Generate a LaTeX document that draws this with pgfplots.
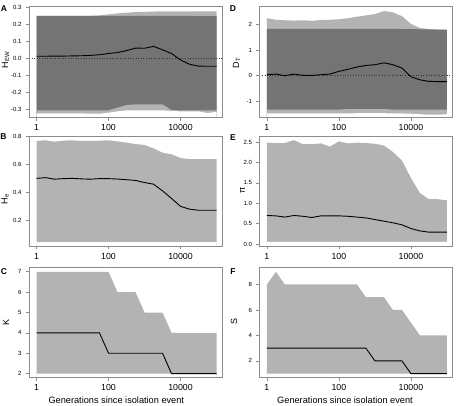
\documentclass[border=0pt]{standalone}
\usepackage{fontspec}
\setmainfont{Liberation Sans}
\usepackage{pgfplots}
\usepackage{pgfplotstable}
\pgfplotsset{compat=1.18}

\definecolor{bandlight}{RGB}{179,179,179}
\definecolor{banddark}{RGB}{116,116,116}
\definecolor{framegray}{RGB}{140,140,140}

% generations sampled at quarter decades
\pgfplotstableread{
gen    olo    ohi    ilo    ihi    mean
1      -0.324 0.250 -0.306 0.250  0.012
1.778  -0.324 0.250 -0.306 0.250  0.012
3.162  -0.324 0.250 -0.306 0.250  0.013
5.623  -0.324 0.250 -0.306 0.250  0.013
10     -0.324 0.250 -0.306 0.250  0.014
17.78  -0.324 0.250 -0.306 0.250  0.015
31.62  -0.326 0.250 -0.306 0.250  0.017
56.23  -0.326 0.252 -0.306 0.250  0.021
100    -0.320 0.258 -0.306 0.250  0.028
177.8  -0.312 0.264 -0.290 0.250  0.034
316.2  -0.306 0.268 -0.275 0.250  0.045
562.3  -0.306 0.272 -0.271 0.250  0.060
1000   -0.306 0.273 -0.271 0.250  0.059
1778   -0.306 0.275 -0.271 0.250  0.070
3162   -0.306 0.276 -0.271 0.250  0.050
5623   -0.310 0.276 -0.305 0.250  0.028
10000  -0.312 0.276 -0.306 0.249 -0.010
17783  -0.312 0.276 -0.306 0.249 -0.035
31623  -0.312 0.276 -0.306 0.248 -0.046
56234  -0.322 0.276 -0.306 0.248 -0.047
100000 -0.314 0.276 -0.306 0.248 -0.047
}\hewtable

\pgfplotstableread{
gen    olo   ohi   ilo   ihi   mean
1      -1.47 2.24 -1.32 1.83  0.040
1.778  -1.47 2.18 -1.32 1.83  0.065
3.162  -1.47 2.16 -1.32 1.83  0.000
5.623  -1.47 2.15 -1.32 1.83  0.065
10     -1.47 2.16 -1.32 1.83  0.013
17.78  -1.47 2.14 -1.32 1.83  0.010
31.62  -1.47 2.17 -1.32 1.83  0.040
56.23  -1.47 2.18 -1.32 1.83  0.065
100    -1.47 2.20 -1.32 1.83  0.170
177.8  -1.47 2.24 -1.30 1.83  0.250
316.2  -1.46 2.30 -1.30 1.83  0.340
562.3  -1.46 2.35 -1.30 1.83  0.400
1000   -1.46 2.40 -1.30 1.83  0.430
1778   -1.46 2.52 -1.30 1.83  0.500
3162   -1.47 2.47 -1.32 1.83  0.430
5623   -1.47 2.32 -1.32 1.82  0.300
10000  -1.48 2.02 -1.32 1.82 -0.040
17783  -1.50 1.86 -1.32 1.81 -0.160
31623  -1.52 1.82 -1.32 1.80 -0.220
56234  -1.52 1.80 -1.32 1.80 -0.230
100000 -1.50 1.79 -1.32 1.79 -0.230
}\dttable

\pgfplotstableread{
gen    lo    hi    mean
1      0.040 0.769 0.500
1.778  0.040 0.774 0.505
3.162  0.040 0.764 0.494
5.623  0.040 0.771 0.498
10     0.040 0.774 0.500
17.78  0.040 0.769 0.496
31.62  0.040 0.769 0.494
56.23  0.040 0.771 0.498
100    0.040 0.774 0.498
177.8  0.040 0.766 0.495
316.2  0.040 0.757 0.490
562.3  0.040 0.747 0.485
1000   0.040 0.740 0.470
1778   0.040 0.716 0.458
3162   0.040 0.685 0.410
5623   0.040 0.673 0.355
10000  0.040 0.646 0.298
17783  0.040 0.639 0.278
31623  0.040 0.639 0.270
56234  0.040 0.639 0.270
100000 0.040 0.639 0.270
}\hetable

\pgfplotstableread{
gen    lo   hi   mean
1      0.05 2.49 0.70
1.778  0.05 2.48 0.69
3.162  0.05 2.48 0.66
5.623  0.05 2.55 0.70
10     0.05 2.45 0.68
17.78  0.05 2.45 0.65
31.62  0.05 2.47 0.69
56.23  0.05 2.39 0.69
100    0.05 2.52 0.69
177.8  0.05 2.47 0.68
316.2  0.05 2.49 0.66
562.3  0.05 2.48 0.64
1000   0.05 2.46 0.60
1778   0.05 2.42 0.56
3162   0.05 2.26 0.52
5623   0.05 2.05 0.47
10000  0.05 1.62 0.38
17783  0.05 1.25 0.32
31623  0.05 1.10 0.29
56234  0.05 1.10 0.29
100000 0.05 1.07 0.29
}\pitable

\pgfplotstableread{
gen    lo hi mean
1      2  7  4
1.778  2  7  4
3.162  2  7  4
5.623  2  7  4
10     2  7  4
17.78  2  7  4
31.62  2  7  4
56.23  2  7  4
100    2  7  3
177.8  2  6  3
316.2  2  6  3
562.3  2  6  3
1000   2  5  3
1778   2  5  3
3162   2  5  3
5623   2  4  2
10000  2  4  2
17783  2  4  2
31623  2  4  2
56234  2  4  2
100000 2  4  2
}\ktable

\pgfplotstableread{
gen    lo hi mean
1      1  8  3
1.778  1  9  3
3.162  1  8  3
5.623  1  8  3
10     1  8  3
17.78  1  8  3
31.62  1  8  3
56.23  1  8  3
100    1  8  3
177.8  1  8  3
316.2  1  8  3
562.3  1  7  3
1000   1  7  2
1778   1  7  2
3162   1  6  2
5623   1  6  2
10000  1  5  1
17783  1  4  1
31623  1  4  1
56234  1  4  1
100000 1  4  1
}\stable

\pgfplotsset{
  gpanel/.style={
    scale only axis, axis on top, width=193pt,
    axis line style={draw=framegray, line width=0.7pt},
    every tick/.style={draw=framegray, line width=0.6pt},
    tick align=outside, major tick length=3.3pt, tick pos=left,
    xtick={1,100,10000}, xticklabels={1,100,10000}, minor xtick={},
    xticklabel style={font=\fontsize{8.8}{9}\selectfont, inner sep=1pt, yshift=-2.5pt},
    yticklabel style={font=\fontsize{6}{7}\selectfont, inner sep=1pt, xshift=-3.3pt},
    anchor=south west,
  },
  meanline/.style={black, line width=0.9pt},
}

\begin{document}
\begin{tikzpicture}
\useasboundingbox (0pt,0pt) rectangle (457pt,406pt);

% A: H_EW
\begin{axis}[gpanel, xmode=log, xmin=0.631, xmax=144544,
  height=110.6pt, at={(29.3pt,288.7pt)},
  ymin=-0.347, ymax=0.3035,
  ytick={-0.3,-0.2,-0.1,0,0.1,0.2,0.3},
  yticklabels={-0.3,-0.2,-0.1,0.0,0.1,0.2,0.3}]
  \addplot[fill=bandlight, draw=none] table[x=gen, y=ohi] {\hewtable}
    -- (axis cs:100000,-1) -- (axis cs:1,-1) -- cycle;
  \addplot[fill=banddark, draw=none] table[x=gen, y=ihi] {\hewtable}
    -- (axis cs:100000,-1) -- (axis cs:1,-1) -- cycle;
  \addplot[fill=bandlight, draw=none] table[x=gen, y=ilo] {\hewtable}
    -- (axis cs:100000,-1) -- (axis cs:1,-1) -- cycle;
  \addplot[fill=white, draw=none] table[x=gen, y=olo] {\hewtable}
    -- (axis cs:100000,-1) -- (axis cs:1,-1) -- cycle;
  \addplot[black!80, dotted, line width=0.6pt] coordinates {(0.1,0) (1000000,0)};
  \addplot[meanline] table[x=gen, y=mean] {\hewtable};
\end{axis}

% D: D_T
\begin{axis}[gpanel, xmode=log, xmin=0.631, xmax=144544,
  height=110.6pt, at={(259.7pt,288.7pt)},
  ymin=-1.62, ymax=2.69,
  ytick={-1,0,1,2}, yticklabels={-1,0,1,2}]
  \addplot[fill=bandlight, draw=none] table[x=gen, y=ohi] {\dttable}
    -- (axis cs:100000,-3) -- (axis cs:1,-3) -- cycle;
  \addplot[fill=banddark, draw=none] table[x=gen, y=ihi] {\dttable}
    -- (axis cs:100000,-3) -- (axis cs:1,-3) -- cycle;
  \addplot[fill=bandlight, draw=none] table[x=gen, y=ilo] {\dttable}
    -- (axis cs:100000,-3) -- (axis cs:1,-3) -- cycle;
  \addplot[fill=white, draw=none] table[x=gen, y=olo] {\dttable}
    -- (axis cs:100000,-3) -- (axis cs:1,-3) -- cycle;
  \addplot[black!80, dotted, line width=0.6pt] coordinates {(0.1,0) (1000000,0)};
  \addplot[meanline] table[x=gen, y=mean] {\dttable};
\end{axis}

% B: H_e
\begin{axis}[gpanel, xmode=log, xmin=0.631, xmax=144544,
  height=109.5pt, at={(29.3pt,160pt)},
  ymin=0.0128, ymax=0.8014,
  ytick={0.2,0.4,0.6,0.8}, yticklabels={0.2,0.4,0.6,0.8}]
  \addplot[fill=bandlight, draw=none] table[x=gen, y=hi] {\hetable}
    -- (axis cs:100000,-0.5) -- (axis cs:1,-0.5) -- cycle;
  \addplot[fill=white, draw=none] table[x=gen, y=lo] {\hetable}
    -- (axis cs:100000,-0.5) -- (axis cs:1,-0.5) -- cycle;
  \addplot[meanline] table[x=gen, y=mean] {\hetable};
\end{axis}

% E: pi
\begin{axis}[gpanel, xmode=log, xmin=0.631, xmax=144544,
  height=109.5pt, at={(259.7pt,160pt)},
  ymin=-0.05, ymax=2.64,
  ytick={0,0.5,1,1.5,2,2.5}, yticklabels={0.0,0.5,1.0,1.5,2.0,2.5}]
  \addplot[fill=bandlight, draw=none] table[x=gen, y=hi] {\pitable}
    -- (axis cs:100000,-1) -- (axis cs:1,-1) -- cycle;
  \addplot[fill=white, draw=none] table[x=gen, y=lo] {\pitable}
    -- (axis cs:100000,-1) -- (axis cs:1,-1) -- cycle;
  \addplot[meanline] table[x=gen, y=mean] {\pitable};
\end{axis}

% C: K
\begin{axis}[gpanel, xmode=log, xmin=0.631, xmax=144544,
  height=110pt, at={(29.3pt,28.3pt)},
  ymin=1.8, ymax=7.2,
  ytick={2,3,4,5,6,7}, yticklabels={2,3,4,5,6,7}]
  \addplot[fill=bandlight, draw=none] table[x=gen, y=hi] {\ktable}
    -- (axis cs:100000,0) -- (axis cs:1,0) -- cycle;
  \addplot[fill=white, draw=none] table[x=gen, y=lo] {\ktable}
    -- (axis cs:100000,0) -- (axis cs:1,0) -- cycle;
  \addplot[meanline] table[x=gen, y=mean] {\ktable};
\end{axis}

% F: S
\begin{axis}[gpanel, xmode=log, xmin=0.631, xmax=144544,
  height=110pt, at={(259.7pt,28.3pt)},
  ymin=0.68, ymax=9.32,
  ytick={2,4,6,8}, yticklabels={2,4,6,8}]
  \addplot[fill=bandlight, draw=none] table[x=gen, y=hi] {\stable}
    -- (axis cs:100000,-1) -- (axis cs:1,-1) -- cycle;
  \addplot[fill=white, draw=none] table[x=gen, y=lo] {\stable}
    -- (axis cs:100000,-1) -- (axis cs:1,-1) -- cycle;
  \addplot[meanline] table[x=gen, y=mean] {\stable};
\end{axis}

% panel letters
\begin{scope}[every node/.style={font=\fontsize{8.5}{9}\selectfont\bfseries, inner sep=0pt}]
  \node at (4pt,397pt) {A};
  \node at (3.5pt,269.5pt) {B};
  \node at (4pt,134.5pt) {C};
  \node at (233pt,397pt) {D};
  \node at (233pt,268pt) {E};
  \node at (233pt,134.5pt) {F};
\end{scope}

% axis titles
\begin{scope}[every node/.style={font=\fontsize{9}{10}\selectfont, inner sep=0pt, rotate=90}]
  \node at (5.5pt,346pt) {H\textsubscript{EW}};
  \node at (236.5pt,343pt) {D\textsubscript{T}};
  \node at (5pt,207pt) {H\textsubscript{e}};
  \node at (242.5pt,215.5pt) {π};
  \node at (6pt,83pt) {K};
  \node at (234pt,84pt) {S};
\end{scope}
\node[font=\fontsize{9.2}{10}\selectfont, inner sep=0pt] at (116.3pt,5.5pt) {Generations since isolation event};
\node[font=\fontsize{9.2}{10}\selectfont, inner sep=0pt] at (345pt,5.5pt) {Generations since isolation event};
\end{tikzpicture}
\end{document}
